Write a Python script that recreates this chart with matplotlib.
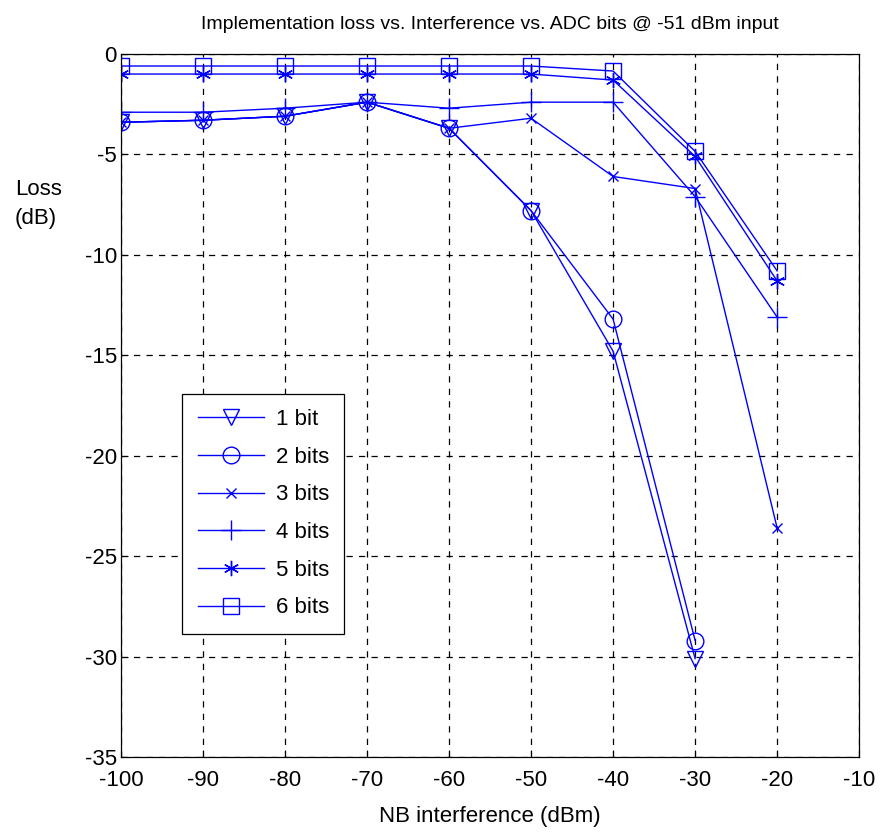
import matplotlib.pyplot as plt
import numpy as np

plt.rcParams['font.family'] = ['Liberation Sans Narrow', 'Liberation Sans', 'DejaVu Sans']
plt.rcParams['axes.unicode_minus'] = False

# NB interference levels (dBm)
x_all = [-100, -90, -80, -70, -60, -50, -40, -30, -20]

# implementation loss (dB) per ADC resolution
loss_1bit = [-3.4, -3.3, -3.1, -2.4, -3.7, -7.8, -14.8, -30.1]
loss_2bit = [-3.4, -3.3, -3.1, -2.4, -3.7, -7.8, -13.2, -29.2]
loss_3bit = [-3.4, -3.3, -3.1, -2.4, -3.7, -3.2, -6.1, -6.7, -23.6]
loss_4bit = [-2.9, -2.9, -2.7, -2.4, -2.7, -2.4, -2.4, -7.1, -13.1]
loss_5bit = [-1.0, -1.0, -1.0, -1.0, -1.0, -1.0, -1.3, -5.1, -11.3]
loss_6bit = [-0.6, -0.6, -0.6, -0.6, -0.6, -0.6, -0.85, -4.85, -10.8]

labels = ['1 bit', '2 bits', '3 bits', '4 bits', '5 bits', '6 bits']
series = [loss_1bit, loss_2bit, loss_3bit, loss_4bit, loss_5bit, loss_6bit]
markers = ['v', 'o', 'x', '+', (6, 2, 0), 's']
msizes = [12, 12, 7, 14, 11, 12]

fig = plt.figure(figsize=(8.83, 8.34), dpi=100)
ax = fig.add_axes([0.137, 0.0923, 0.836, 0.843])

for y, lab, m, ms in zip(series, labels, markers, msizes):
    ax.plot(x_all[:len(y)], y, color='#0000ff', lw=1, marker=m, ms=ms,
            mfc='none', mec='#0000ff', mew=1, label=lab)

ax.set_xlim(-100, -10)
ax.set_ylim(-35, 0)
ax.set_xticks(np.arange(-100, -9, 10))
ax.set_yticks(np.arange(-35, 1, 5))
ax.grid(True, color='black', linestyle=(0, (5, 5)), lw=0.9)
ax.tick_params(direction='in', labelsize=16, length=5, pad=9)
ax.tick_params(axis='y', pad=3)
for s in ax.spines.values():
    s.set_linewidth(0.9)

ax.set_title('Implementation loss vs. Interference vs. ADC bits @ -51 dBm input',
             fontsize=14, pad=18)
ax.set_xlabel('NB interference (dBm)', fontsize=16, labelpad=11)
fig.text(0.017, 0.755, 'Loss\n(dB)', fontsize=16, ha='left', va='center',
         linespacing=1.5)

leg = ax.legend(loc='lower left', bbox_to_anchor=(0.083, 0.175), fontsize=16,
                fancybox=False, framealpha=1, edgecolor='black',
                handlelength=3.0, borderpad=0.7, labelspacing=0.75,
                borderaxespad=0, handletextpad=0.5)
leg.get_frame().set_linewidth(0.9)

fig.savefig('out.png')
